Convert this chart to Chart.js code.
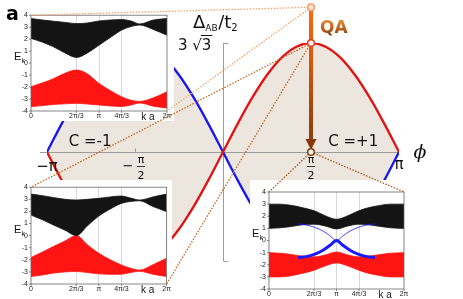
<!DOCTYPE html>
<html>
<head>
<meta charset="utf-8">
<script src="https://cdn.jsdelivr.net/npm/chart.js@4.4.1/dist/chart.umd.min.js"></script>
<style>
  html, body { margin: 0; padding: 0; background: #fff; }
  #wrap { position: relative; width: 463px; height: 299px; overflow: hidden; }
  #wrap canvas { position: absolute; }
  .inset { background: #fff; }
</style>
</head>
<body>
<div id="wrap">
  <canvas id="main" width="463" height="299" style="left:0;top:0"></canvas>
  <canvas id="insetTop" class="inset" width="169" height="113" style="left:5px;top:8px"></canvas>
  <canvas id="insetLeft" class="inset" width="167" height="119" style="left:5px;top:180px"></canvas>
  <canvas id="insetRight" class="inset" width="165" height="119" style="left:250px;top:180px"></canvas>
  <canvas id="overlay" width="463" height="299" style="left:0;top:0;pointer-events:none"></canvas>
</div>
<script>
// phase diagram, phi in units of pi, boundary Delta_AB in units of t2
const phi = [-1, -0.917, -0.833, -0.75, -0.667, -0.583, -0.5, -0.417, -0.333, -0.25, -0.167, -0.083, 0,
             0.083, 0.167, 0.25, 0.333, 0.417, 0.5, 0.583, 0.667, 0.75, 0.833, 0.917, 1];
const redBoundary = [0, -1.34, -2.6, -3.67, -4.5, -5.02, -5.2, -5.02, -4.5, -3.67, -2.6, -1.34, 0,
                     1.34, 2.6, 3.67, 4.5, 5.02, 5.2, 5.02, 4.5, 3.67, 2.6, 1.34, 0];
const blueBoundary = [0, 1.34, 2.6, 3.67, 4.5, 5.02, 5.2, 5.02, 4.5, 3.67, 2.6, 1.34, 0,
                      -1.34, -2.6, -3.67, -4.5, -5.02, -5.2, -5.02, -4.5, -3.67, -2.6, -1.34, 0];
const deltaMax = 5.196;   // 3 sqrt(3)
const qaPhi = 0.5;
const qaTop = 6.9;        // start of the quench arrow

// band structures of the ribbon, k in units of pi
const kGrid = [0, 0.17, 0.33, 0.5, 0.67, 0.83, 1, 1.17, 1.33, 1.47, 1.6, 1.8, 2];
const kTicks = [0, 2 / 3, 1, 4 / 3, 2];
const kTickLabels = ['0', '2π/3', 'π', '4π/3', '2π'];
const eTicks = [-4, -3, -2, -1, 0, 1, 2, 3, 4];

// top inset: above the boundary (trivial)
const topBlackHi = [3.72, 3.6, 3.5, 3.4, 3.3, 3.35, 3.52, 3.6, 3.64, 3.52, 3.27, 3.6, 3.72];
const topBlackLo = [2.06, 1.75, 1.36, 0.85, 0.47, 0.85, 1.5, 2.15, 2.75, 3.05, 3.18, 2.8, 2.33];
const topRedHi = [-1.97, -1.65, -1.3, -0.85, -0.58, -0.9, -1.7, -2.3, -2.8, -3.1, -3.2, -2.9, -2.4];
const topRedLo = [-3.64, -3.55, -3.45, -3.4, -3.36, -3.42, -3.5, -3.58, -3.62, -3.5, -3.33, -3.6, -3.75];

// bottom-left inset: on the boundary (gap closes at 2pi/3)
const blBlackHi = [3.43, 3.3, 3.15, 3.0, 2.94, 3.0, 3.08, 3.2, 3.27, 3.1, 2.94, 3.2, 3.43];
const blBlackLo = [1.7, 1.3, 0.88, 0.45, 0.0, 0.8, 1.62, 2.2, 2.66, 2.82, 2.88, 2.4, 1.98];
const blRedHi = [-1.81, -1.35, -0.9, -0.45, 0.0, -0.75, -1.46, -2.0, -2.42, -2.7, -2.85, -2.4, -1.87];
const blRedLo = [-3.38, -3.25, -3.1, -3.0, -2.97, -3.05, -3.16, -3.2, -3.19, -3.05, -2.95, -3.2, -3.38];

// bottom-right inset: inside the C=+1 lobe, with edge states
const brBlackHi = [3.0, 3.0, 2.9, 2.7, 2.45, 2.05, 1.75, 2.05, 2.45, 2.7, 2.85, 3.0, 3.0];
const brBlackLo = [1.0, 1.05, 1.15, 1.3, 1.35, 1.2, 0.95, 1.2, 1.35, 1.3, 1.2, 1.05, 1.0];
const brRedHi = [-1.0, -1.05, -1.15, -1.3, -1.35, -1.2, -0.95, -1.2, -1.35, -1.3, -1.2, -1.05, -1.0];
const brRedLo = [-3.0, -3.0, -2.9, -2.7, -2.45, -2.1, -1.85, -2.1, -2.45, -2.7, -2.85, -3.0, -3.0];
const kEdge = [0.43, 0.55, 0.67, 0.8, 0.9, 1, 1.1, 1.2, 1.33, 1.45, 1.57];
const edgeLower = [-1.4, -1.33, -1.15, -0.8, -0.42, 0, -0.42, -0.8, -1.15, -1.33, -1.4];
const edgeUpper = [1.36, 1.28, 1.1, 0.78, 0.4, 0, 0.4, 0.78, 1.1, 1.28, 1.36];

function pts(xs, ys) {
    return xs.map((v, i) => ({ x: v, y: ys[i] }));
}

const phaseDecor = {
    id: 'phaseDecor',
    beforeDatasetsDraw(chart) {
        const { ctx, scales: { x, y } } = chart;
        const x0 = Math.round(x.getPixelForValue(0)) + 0.5;
        const y0 = Math.round(y.getPixelForValue(0)) + 0.5;
        const yTop = y.getPixelForValue(deltaMax), yBot = y.getPixelForValue(-deltaMax);
        ctx.save();
        ctx.strokeStyle = '#9c9c9c';
        ctx.lineWidth = 1;
        ctx.beginPath();
        ctx.moveTo(x.getPixelForValue(-1.04), y0);
        ctx.lineTo(x.getPixelForValue(1), y0);
        ctx.moveTo(x0, yTop);
        ctx.lineTo(x0, yBot);
        ctx.moveTo(x0, Math.round(yTop) + 0.5);
        ctx.lineTo(x0 + 5, Math.round(yTop) + 0.5);
        ctx.moveTo(x0, Math.round(yBot) + 0.5);
        ctx.lineTo(x0 + 5, Math.round(yBot) + 0.5);
        const xm = Math.round(x.getPixelForValue(-0.5)) + 0.5;
        ctx.moveTo(xm, y0);
        ctx.lineTo(xm, y0 - 4);
        ctx.stroke();
        ctx.restore();
    },
    afterDatasetsDraw(chart) {
        const { ctx, scales: { x, y } } = chart;
        const y0 = y.getPixelForValue(0);
        ctx.save();
        ctx.fillStyle = '#111';
        ctx.textBaseline = 'alphabetic';

        // phi tick labels
        ctx.textAlign = 'center';
        ctx.font = '15px "DejaVu Sans"';
        ctx.fillText('−π', x.getPixelForValue(-1), y0 + 19);
        ctx.fillText('π', x.getPixelForValue(1), y0 + 17);
        ctx.font = '13px "DejaVu Sans"';
        ctx.fillText('−', x.getPixelForValue(-0.5) - 7, y0 + 18);
        [x.getPixelForValue(-0.5) + 6, x.getPixelForValue(0.5)].forEach(cx => {
            ctx.font = '11px "DejaVu Sans"';
            ctx.fillText('π', cx, y0 + 11);
            ctx.fillText('2', cx, y0 + 27);
            ctx.fillRect(cx - 4, y0 + 14, 8, 0.8);
        });
        ctx.font = 'italic 19px "DejaVu Serif"';
        ctx.fillText('ϕ', x.getPixelForValue(1) + 21, y0 + 6);

        // Chern numbers
        ctx.font = '15px "DejaVu Sans"';
        ctx.fillText('C =-1', x.getPixelForValue(-0.755), y0 - 6);
        ctx.fillText('C =+1', x.getPixelForValue(0.74), y0 - 6);

        // y axis title and 3 sqrt(3)
        ctx.textAlign = 'left';
        let tx = x.getPixelForValue(0) - 30;
        const ty = y.getPixelForValue(deltaMax) - 15;
        const parts = [['Δ', 18, 0], ['AB', 9, 3], ['/t', 18, 0], ['2', 10, 3]];
        parts.forEach(([s, size, dy]) => {
            ctx.font = size + 'px "DejaVu Sans"';
            ctx.fillText(s, tx, ty + dy);
            tx += ctx.measureText(s).width + (size < 12 ? 0.5 : 0);
        });
        ctx.font = '15px "DejaVu Sans"';
        const sx = x.getPixelForValue(0) - 45, sy = y.getPixelForValue(deltaMax) + 7;
        ctx.fillText('3 √3', sx, sy);
        const wAll = ctx.measureText('3 √3').width, wLast = ctx.measureText('3').width;
        ctx.fillRect(sx + wAll - wLast - 1, sy - 15, wLast + 2, 1);

        // QA
        const qx = x.getPixelForValue(qaPhi) + 9, qy = y.getPixelForValue(qaTop) + 26;
        const grad = ctx.createLinearGradient(0, qy - 13, 0, qy);
        grad.addColorStop(0, '#e8892e');
        grad.addColorStop(1, '#9c4c14');
        ctx.fillStyle = grad;
        ctx.font = 'bold 17px "DejaVu Sans"';
        ctx.fillText('QA', qx, qy);
        ctx.restore();
    }
};

const mainChart = new Chart(document.getElementById('main'), {
    type: 'line',
    data: {
        datasets: [{
            data: pts(phi, redBoundary),
            borderColor: '#e21212',
            borderWidth: 2.3,
            backgroundColor: '#ece6de',
            fill: '+1',
            pointRadius: 0,
            cubicInterpolationMode: 'monotone'
        }, {
            data: pts(phi, blueBoundary),
            borderColor: '#1616f0',
            borderWidth: 2.3,
            fill: false,
            pointRadius: 0,
            cubicInterpolationMode: 'monotone'
        }]
    },
    options: {
        responsive: false,
        animation: false,
        events: [],
        layout: { padding: { left: 47, right: 64, top: 43, bottom: 38 } },
        plugins: {
            legend: { display: false },
            tooltip: { enabled: false },
            filler: { drawTime: 'beforeDatasetsDraw' }
        },
        scales: {
            x: { type: 'linear', min: -1, max: 1, display: false },
            y: { type: 'linear', min: -deltaMax, max: deltaMax, display: false }
        }
    },
    plugins: [phaseDecor]
});

const insetDecor = {
    id: 'insetDecor',
    afterDatasetsDraw(chart) {
        const { ctx, chartArea: a, scales: { x, y } } = chart;
        ctx.save();
        ctx.strokeStyle = '#666';
        ctx.lineWidth = 0.8;
        ctx.strokeRect(a.left, a.top, a.right - a.left, a.bottom - a.top);
        ctx.beginPath();
        eTicks.forEach(v => {
            const py = y.getPixelForValue(v);
            ctx.moveTo(a.left - 2, py);
            ctx.lineTo(a.left, py);
        });
        kTicks.forEach(v => {
            const px = x.getPixelForValue(v);
            ctx.moveTo(px, a.bottom);
            ctx.lineTo(px, a.bottom + 2);
        });
        ctx.stroke();
        ctx.fillStyle = '#111';
        ctx.textBaseline = 'alphabetic';
        ctx.textAlign = 'left';
        const ey = y.getPixelForValue(0.25);
        ctx.font = '11px "Liberation Sans"';
        ctx.fillText('E', a.left - 17, ey);
        ctx.font = '7px "Liberation Sans"';
        ctx.fillText('k', a.left - 9.5, ey + 3);
        ctx.font = '10px "Liberation Sans"';
        ctx.textAlign = 'center';
        ctx.fillText('k a', x.getPixelForValue(1.72), a.bottom + 9);
        ctx.restore();
    }
};

function band(data, color, fill) {
    return {
        data: data,
        borderColor: color,
        borderWidth: 0.8,
        backgroundColor: color,
        fill: fill,
        pointRadius: 0,
        cubicInterpolationMode: 'monotone'
    };
}

function makeInset(id, datasets, yWidth, padding) {
    return new Chart(document.getElementById(id), {
        type: 'line',
        data: { datasets: datasets },
        options: {
            responsive: false,
            animation: false,
            events: [],
            layout: { padding: padding },
            plugins: { legend: { display: false }, tooltip: { enabled: false } },
            scales: {
                x: {
                    type: 'linear', min: 0, max: 2,
                    afterBuildTicks: s => { s.ticks = kTicks.map(v => ({ value: v })); },
                    afterFit: s => { s.height = 10; },
                    ticks: {
                        callback: (v, i) => kTickLabels[i],
                        font: { size: 7, family: 'Liberation Sans' },
                        color: '#222', padding: 1, maxRotation: 0, autoSkip: false
                    },
                    grid: {
                        drawTicks: false, lineWidth: 0.8,
                        color: c => (c.tick && c.tick.value > 0.1 && c.tick.value < 1.9) ? '#cdcdcd' : 'rgba(0,0,0,0)'
                    },
                    border: { display: false }
                },
                y: {
                    type: 'linear', min: -4, max: 4,
                    afterBuildTicks: s => { s.ticks = eTicks.map(v => ({ value: v })); },
                    afterFit: s => { s.width = yWidth; },
                    ticks: { font: { size: 7, family: 'Liberation Sans' }, color: '#222', padding: 3, autoSkip: false },
                    grid: { display: false, drawTicks: false },
                    border: { display: false }
                }
            }
        },
        plugins: [insetDecor]
    });
}

const BLACK = '#141414', RED = '#ff1414', BLUE = '#1a1aff';

const insetTop = makeInset('insetTop', [
    band(pts(kGrid, topBlackHi), BLACK, '+1'),
    band(pts(kGrid, topBlackLo), BLACK, false),
    band(pts(kGrid, topRedHi), RED, '+1'),
    band(pts(kGrid, topRedLo), RED, false)
], 26, { left: 0, right: 7, top: 7, bottom: 0 });

const insetLeft = makeInset('insetLeft', [
    band(pts(kGrid, blBlackHi), BLACK, '+1'),
    band(pts(kGrid, blBlackLo), BLACK, false),
    band(pts(kGrid, blRedHi), RED, '+1'),
    band(pts(kGrid, blRedLo), RED, false)
], 26, { left: 0, right: 5, top: 7, bottom: 5 });

const insetRight = makeInset('insetRight', [
    { data: pts(kEdge, edgeLower), borderColor: BLUE, borderWidth: 3, fill: false, pointRadius: 0, cubicInterpolationMode: 'monotone' },
    { data: pts(kEdge, edgeUpper), borderColor: BLUE, borderWidth: 0.8, fill: false, pointRadius: 0, cubicInterpolationMode: 'monotone' },
    band(pts(kGrid, brBlackHi), BLACK, '+1'),
    band(pts(kGrid, brBlackLo), BLACK, false),
    band(pts(kGrid, brRedHi), RED, '+1'),
    band(pts(kGrid, brRedLo), RED, false)
], 19, { left: 0, right: 11, top: 12, bottom: 0 });

// dotted guide lines, quench arrow and markers on top of everything
function drawOverlay() {
    const g = document.getElementById('overlay').getContext('2d');
    const xs = mainChart.scales.x, ys = mainChart.scales.y;
    const px = xs.getPixelForValue(qaPhi);
    const pTop = [px, ys.getPixelForValue(qaTop)];
    const pPeak = [px, ys.getPixelForValue(deltaMax)];
    const pMid = [px, ys.getPixelForValue(0)];
    const corner = (ch, h, v) => {
        const a = ch.chartArea;
        return [ch.canvas.offsetLeft + (h === 'l' ? a.left : a.right),
                ch.canvas.offsetTop + (v === 't' ? a.top : a.bottom)];
    };
    const line = (p, q, color) => {
        g.strokeStyle = color;
        g.beginPath();
        g.moveTo(p[0], p[1]);
        g.lineTo(q[0], q[1]);
        g.stroke();
    };
    g.save();
    g.lineWidth = 1.3;
    g.setLineDash([1.5, 1.5]);
    line(pTop, corner(insetTop, 'l', 't'), '#f5a468');
    line(pTop, corner(insetTop, 'r', 'b'), '#f5a468');
    line(pPeak, corner(insetLeft, 'l', 't'), '#c4661f');
    line(pPeak, corner(insetLeft, 'r', 'b'), '#c4661f');
    line(pMid, corner(insetRight, 'l', 't'), '#a9561e');
    line(pMid, corner(insetRight, 'r', 't'), '#a9561e');
    g.setLineDash([]);

    // quench arrow
    const grad = g.createLinearGradient(0, pTop[1], 0, pMid[1]);
    grad.addColorStop(0, '#ff6a10');
    grad.addColorStop(1, '#873808');
    g.strokeStyle = grad;
    g.lineWidth = 4;
    g.beginPath();
    g.moveTo(px, pTop[1]);
    g.lineTo(px, pMid[1] - 10);
    g.stroke();
    g.fillStyle = '#873808';
    g.beginPath();
    g.moveTo(px - 5.5, pMid[1] - 13);
    g.lineTo(px + 5.5, pMid[1] - 13);
    g.lineTo(px, pMid[1] - 2);
    g.closePath();
    g.fill();

    const marker = (p, stroke, fill) => {
        g.beginPath();
        g.arc(p[0], p[1], 3.3, 0, Math.PI * 2);
        g.fillStyle = fill;
        g.fill();
        g.lineWidth = 1.5;
        g.strokeStyle = stroke;
        g.stroke();
    };
    marker(pTop, '#f59a6a', '#fde4d6');
    marker(pPeak, '#ee3a1c', '#ffffff');
    marker(pMid, '#873808', '#ffffff');

    // panel letter sits above the top inset
    g.fillStyle = '#000';
    g.font = 'bold 19px "DejaVu Sans"';
    g.textBaseline = 'alphabetic';
    g.fillText('a', 6, 20);
    g.restore();
}
drawOverlay();
</script>
</body>
</html>
